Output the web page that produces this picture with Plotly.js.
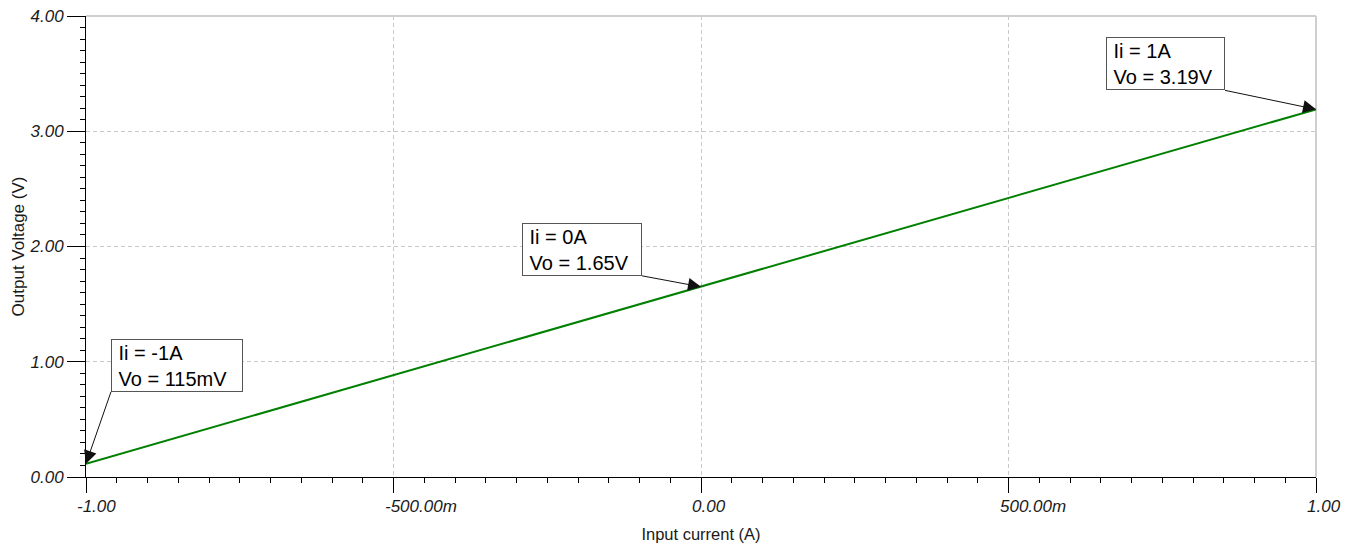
<!DOCTYPE html>
<html>
<head>
<meta charset="utf-8">
<script src="https://cdn.plot.ly/plotly-3.0.1.min.js"></script>
<style>
  html, body { margin: 0; padding: 0; background: #ffffff; }
  #chart { width: 1356px; height: 547px; }
</style>
</head>
<body>
<div id="chart"></div>
<script>
// ---- data ----
const inputCurrent = [-1, 0, 1];
const outputVoltage = [0.115, 1.65, 3.19];

const xTickVals = [-1, -0.5, 0, 0.5, 1];
const xTickText = ['-1.00', '-500.00m', '0.00', '500.00m', '1.00'];
const yTickVals = [0, 1, 2, 3, 4];
const yTickText = ['0.00', '1.00', '2.00', '3.00', '4.00'];

const noteText = [
  '\u00a0Ii = -1A<br>\u00a0Vo = 115mV',
  '\u00a0Ii = 0A<br>\u00a0Vo = 1.65V',
  '\u00a0Ii = 1A<br>\u00a0Vo = 3.19V'
];

// ---- styles ----
const FONT = '"Liberation Sans", Arial, sans-serif';
const tickFont = { family: FONT, size: 17, color: '#1a1a1a', style: 'italic' };
const titleFont = { family: FONT, size: 16.5, color: '#1a1a1a' };
const gridCol = '#c8c8c8';

const trace = {
  x: inputCurrent,
  y: outputVoltage,
  type: 'scatter',
  mode: 'lines',
  line: { color: 'rgb(0,128,0)', width: 2 },
  hoverinfo: 'skip',
  showlegend: false
};

const noteLayout = [
  { ax: 25, ay: -72, xanchor: 'left', yanchor: 'bottom', width: 128 },
  { ax: -59, ay: -11, xanchor: 'right', yanchor: 'bottom', width: 116 },
  { ax: -91, ay: -19, xanchor: 'right', yanchor: 'bottom', width: 115 }
];

const noteAnnotations = inputCurrent.map((xv, i) => ({
  x: xv,
  y: outputVoltage[i],
  xref: 'x', yref: 'y',
  text: noteText[i],
  showarrow: true,
  ax: noteLayout[i].ax,
  ay: noteLayout[i].ay,
  axref: 'pixel', ayref: 'pixel',
  xanchor: noteLayout[i].xanchor,
  yanchor: noteLayout[i].yanchor,
  width: noteLayout[i].width,
  height: 49,
  align: 'left',
  valign: 'middle',
  font: { family: FONT, size: 20, color: '#000' },
  bgcolor: '#ffffff',
  bordercolor: '#555555',
  borderwidth: 1,
  borderpad: 1,
  arrowhead: 2,
  arrowsize: 2.6,
  arrowwidth: 1,
  arrowcolor: '#111111',
  standoff: 0,
  startstandoff: 0
}));

// x tick labels: left-anchored slightly before each tick, as in the original software
const xTickLabelAnnotations = xTickVals.map((v, i) => ({
  x: v,
  y: 0,
  xref: 'x', yref: 'paper',
  text: xTickText[i],
  showarrow: false,
  xanchor: 'left',
  yanchor: 'top',
  xshift: -11,
  yshift: -18,
  font: tickFont
}));

const layout = {
  width: 1356,
  height: 547,
  margin: { l: 86, r: 40, t: 16, b: 70, pad: 0 },
  paper_bgcolor: '#ffffff',
  plot_bgcolor: '#ffffff',
  showlegend: false,
  xaxis: {
    range: [-1, 1],
    tickmode: 'array',
    tickvals: xTickVals,
    ticktext: xTickText,
    showticklabels: false,
    ticks: 'outside',
    ticklen: 15,
    tickwidth: 1,
    tickcolor: '#000',
    showline: true,
    linecolor: '#000',
    linewidth: 1,
    showgrid: true,
    gridcolor: gridCol,
    griddash: '4px,3px',
    gridwidth: 1,
    zeroline: false,
    tickfont: tickFont,
    minor: { dtick: 0.05, tick0: 0, ticks: 'outside', ticklen: 5, tickcolor: '#000', tickwidth: 1, showgrid: false },
    title: { text: 'Input current (A)', font: titleFont, standoff: 36 },
    automargin: false,
    fixedrange: true
  },
  xaxis2: {
    overlaying: 'x',
    anchor: 'y',
    side: 'bottom',
    range: [-1, 1],
    dtick: 0.25,
    tick0: 0,
    ticks: 'outside',
    ticklen: 9,
    tickwidth: 1,
    tickcolor: '#000',
    showticklabels: false,
    showgrid: false,
    showline: false,
    zeroline: false,
    automargin: false,
    fixedrange: true
  },
  yaxis: {
    range: [0, 4],
    tickmode: 'array',
    tickvals: yTickVals,
    ticktext: yTickText,
    ticks: 'outside',
    ticklen: 18,
    tickwidth: 1,
    tickcolor: '#000',
    showline: true,
    linecolor: '#000',
    linewidth: 1,
    showgrid: true,
    gridcolor: gridCol,
    griddash: '4px,3px',
    gridwidth: 1,
    zeroline: false,
    tickfont: tickFont,
    minor: { dtick: 0.1, tick0: 0, ticks: 'outside', ticklen: 5, tickcolor: '#000', tickwidth: 1, showgrid: false },
    title: { text: 'Output Voltage (V)', font: { family: FONT, size: 17, color: '#1a1a1a' }, standoff: 0 },
    automargin: false,
    fixedrange: true
  },
  yaxis2: {
    overlaying: 'y',
    anchor: 'x',
    side: 'left',
    range: [0, 4],
    dtick: 0.5,
    tick0: 0,
    ticks: 'outside',
    ticklen: 9,
    tickwidth: 1,
    tickcolor: '#000',
    showticklabels: false,
    showgrid: false,
    showline: false,
    zeroline: false,
    automargin: false,
    fixedrange: true
  },
  shapes: [
    { type: 'line', xref: 'paper', yref: 'paper', x0: 0, x1: 1, y0: 1, y1: 1, line: { color: '#cfcfcf', width: 2 }, layer: 'above' },
    { type: 'line', xref: 'paper', yref: 'paper', x0: 1, x1: 1, y0: 0, y1: 1, line: { color: '#cfcfcf', width: 2 }, layer: 'below' }
  ],
  annotations: noteAnnotations.concat(xTickLabelAnnotations)
};

Plotly.newPlot('chart', [trace], layout, { displayModeBar: false, staticPlot: true });
</script>
</body>
</html>
